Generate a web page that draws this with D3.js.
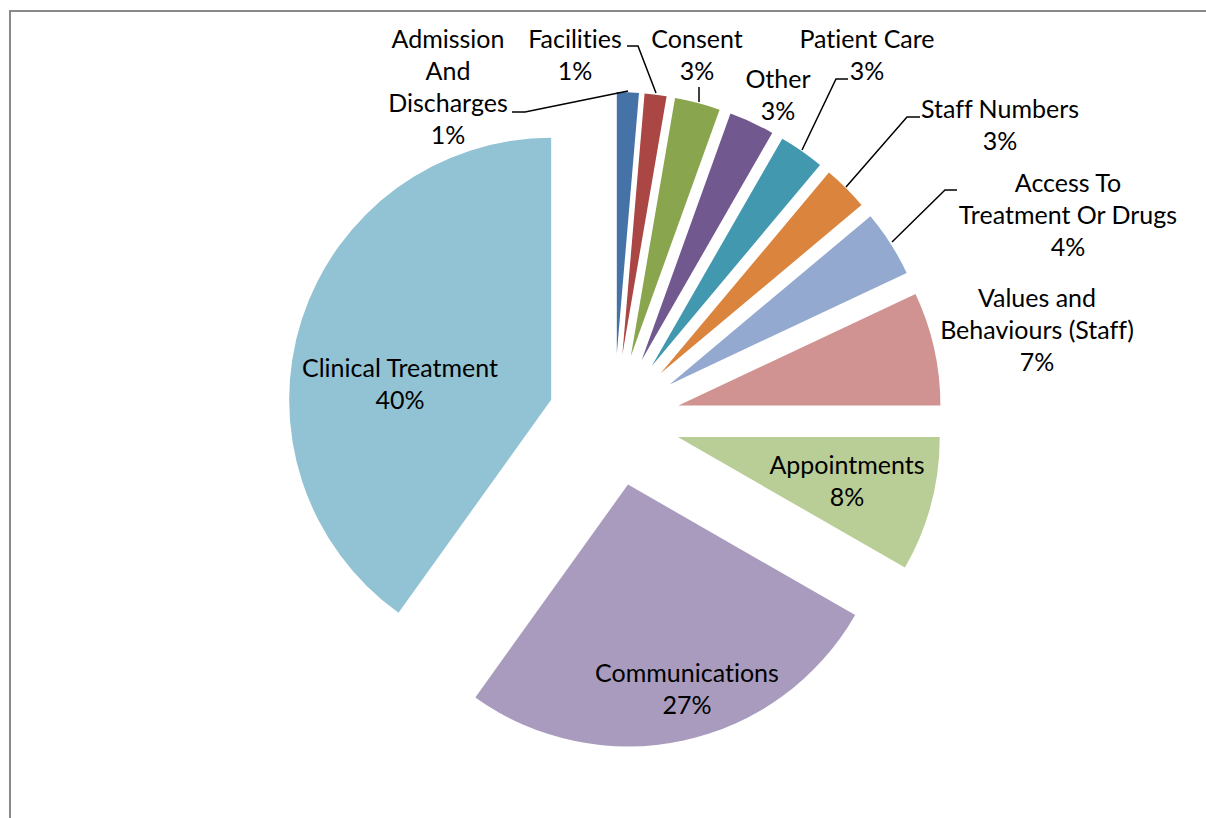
<!DOCTYPE html>
<html>
<head>
<meta charset="utf-8">
<script src="https://cdn.jsdelivr.net/npm/d3@7"></script>
<style>
  html, body { margin: 0; padding: 0; background: #fff; }
  svg { display: block; }
  text { font-family: Lato, "Open Sans", sans-serif; fill: #000; font-variant-ligatures: none; }
</style>
</head>
<body>
<svg id="chart" width="1206" height="818"></svg>
<script>
// ---- data ----
const categories = [
  "Admission And Discharges", "Facilities", "Consent", "Other", "Patient Care",
  "Staff Numbers", "Access To Treatment Or Drugs", "Values and Behaviours (Staff)",
  "Appointments", "Communications", "Clinical Treatment"
];
const shares = [1.35, 1.35, 2.8, 2.8, 2.8, 2.8, 4.1, 7.0, 8.3, 26.6, 40.1];
const colors = [
  "#4572A7", "#AA4643", "#89A54E", "#71588F", "#4198AF",
  "#DB843D", "#93A9CF", "#D19392", "#B9CD96", "#A99BBD", "#92C3D4"
];
const labelLines = [
  ["Admission", "And", "Discharges"], ["Facilities"], ["Consent"], ["Other"], ["Patient Care"],
  ["Staff Numbers"], ["Access To", "Treatment Or Drugs"], ["Values and", "Behaviours (Staff)"],
  ["Appointments"], ["Communications"], ["Clinical Treatment"]
];

// ---- layout (positions kept separate from data) ----
const W = 1206, H = 818;
const cx = 614, cy = 420, R = 262, explode = 66;
const fontSize = 25, lineH = 32;
// label block: centre x, y of first line centre
const labelPos = [
  [448, 39], [575, 39], [697, 39], [778, 79], [867, 39],
  [1000, 109], [1068, 183], [1037, 298], [847, 465], [687, 673], [400, 368]
];
// leader lines (polyline points)
const leaders = [
  [[512, 112], [525, 112], [628, 91]],
  [[627, 46], [638, 46], [656, 93]],
  [[699, 87], [699, 102]],
  null,
  [[848, 79], [836, 79], [802, 150]],
  [[920, 117], [907, 117], [846, 187]],
  [[957, 190], [945, 190], [892, 242]],
  null, null, null, null
];

const svg = d3.select("#chart");

// chart border
svg.append("rect")
  .attr("x", 10).attr("y", 11)
  .attr("width", W + 50).attr("height", H + 50)
  .attr("fill", "none").attr("stroke", "#898989").attr("stroke-width", 2);

const total = d3.sum(shares);
const pie = d3.pie().sort(null).value(d => d)(shares);
const arc = d3.arc().innerRadius(0).outerRadius(R);

const g = svg.append("g").attr("transform", `translate(${cx},${cy})`);
g.selectAll("path").data(pie).join("path")
  .attr("d", arc)
  .attr("fill", (d, i) => colors[i])
  .attr("transform", d => {
    const a = (d.startAngle + d.endAngle) / 2;
    return `translate(${explode * Math.sin(a)},${-explode * Math.cos(a)})`;
  });

// leader lines
leaders.forEach(pts => {
  if (!pts) return;
  svg.append("path")
    .attr("d", d3.line()(pts))
    .attr("fill", "none").attr("stroke", "#000").attr("stroke-width", 1.5);
});

// labels
const lg = svg.append("g");
pie.forEach((d, i) => {
  const lines = labelLines[i].concat([Math.round(shares[i] / total * 100) + "%"]);
  const [x, y0] = labelPos[i];
  const t = lg.append("text")
    .attr("text-anchor", "middle")
    .attr("font-size", fontSize);
  lines.forEach((ln, k) => {
    t.append("tspan")
      .attr("x", x)
      .attr("y", y0 + k * lineH)
      .attr("dy", "0.35em")
      .text(ln);
  });
});
</script>
</body>
</html>
